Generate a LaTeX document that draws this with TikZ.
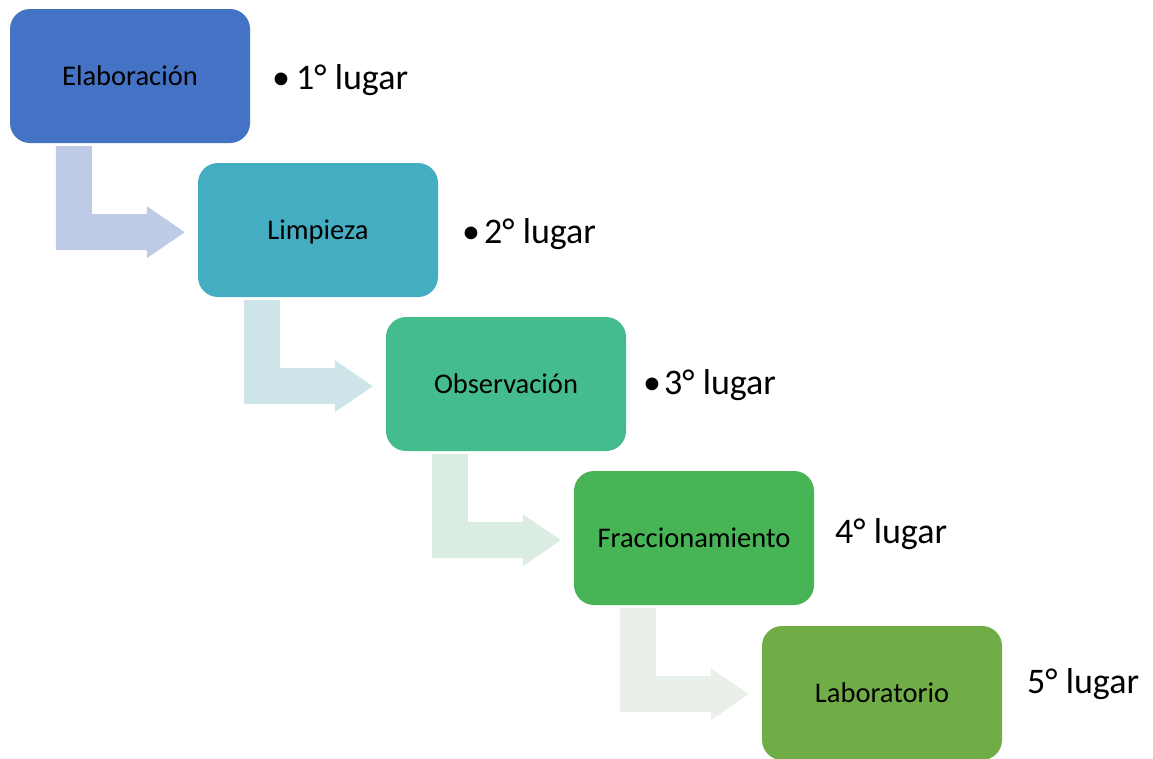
\documentclass[tikz,border=0pt]{standalone}
\usepackage{fontspec}
\setmainfont{Carlito}
\usetikzlibrary{calc}
\definecolor{cA}{HTML}{4472C4}
\definecolor{cB}{HTML}{44ADC1}
\definecolor{cC}{HTML}{44BC8E}
\definecolor{cD}{HTML}{47B455}
\definecolor{cE}{HTML}{70AD47}
\definecolor{aA}{HTML}{BFCAE6}
\definecolor{aB}{HTML}{CDE5E8}
\definecolor{aC}{HTML}{DBEDE3}
\definecolor{aD}{HTML}{E9F0E9}
\tikzset{
  stepbox/.style={rectangle, rounded corners=20pt, minimum width=240pt, minimum height=134pt,
    inner sep=0pt, text=black, font=\fontsize{28.5}{34}\selectfont, text height=19pt, text depth=0pt},
  place/.style={anchor=base west, inner sep=0pt, text=black, font=\fontsize{36}{42}\selectfont},
}
\newcommand{\bentarrow}[2]{%
  \fill[#2] ($(#1.south west)+(46,3)$) -- ($(#1.south west)+(82,3)$) -- ($(#1.south west)+(82,71)$)
    -- ($(#1.south west)+(137,71)$) -- ($(#1.south west)+(137,63)$) -- ($(#1.south west)+(175,89)$)
    -- ($(#1.south west)+(137,115)$) -- ($(#1.south west)+(137,107)$) -- ($(#1.south west)+(46,107)$) -- cycle;}
\begin{document}
\begin{tikzpicture}[x=1pt,y=-1pt]
\useasboundingbox (0,0) rectangle (1153,758);
\node[stepbox, fill=cA] (b1) at (130,76) {Elaboración};
\node[stepbox, fill=cB] (b2) at (318,230) {Limpieza};
\node[stepbox, fill=cC] (b3) at (506,384) {Observación};
\node[stepbox, fill=cD] (b4) at (694,538) {Fraccionamiento};
\node[stepbox, fill=cE] (b5) at (882,693) {Laboratorio};
\bentarrow{b1}{aA}
\bentarrow{b2}{aB}
\bentarrow{b3}{aC}
\bentarrow{b4}{aD}
\node[place] (l1) at (272,89) {\makebox[24pt][l]{•}1° lugar};
\node[place] (l2) at (462,243) {\makebox[22pt][l]{•}2° lugar};
\node[place] (l3) at (643,394) {\makebox[21pt][l]{•}3° lugar};
\node[place] (l4) at (835,543) {4° lugar};
\node[place] (l5) at (1027,693) {5° lugar};
\end{tikzpicture}
\end{document}
